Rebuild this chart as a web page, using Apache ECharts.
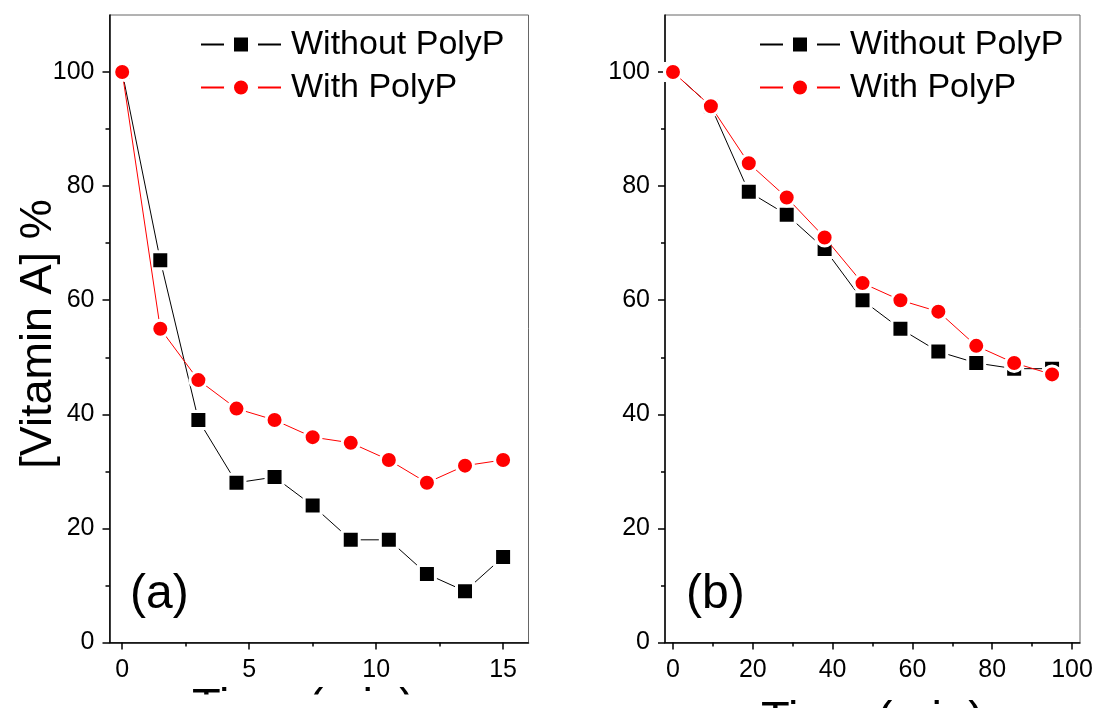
<!DOCTYPE html>
<html>
<head>
<meta charset="utf-8">
<script src="https://cdn.jsdelivr.net/npm/echarts@6/dist/echarts.min.js"></script>
<style>
  html, body { margin: 0; padding: 0; background: #fff; }
  #chart { width: 1097px; height: 708px; }
</style>
</head>
<body>
<div id="chart"></div>
<script>
// Panel (a): time in minutes
const timeA = [0, 1.5, 3, 4.5, 6, 7.5, 9, 10.5, 12, 13.5, 15];
const withoutPolyPA = [100, 67, 39, 28, 29, 24, 18, 18, 12, 9, 15];
const withPolyPA = [100, 55, 46, 41, 39, 36, 35, 32, 28, 31, 32];

// Panel (b)
const timeB = [0, 9.5, 19, 28.5, 38, 47.5, 57, 66.5, 76, 85.5, 95];
const withoutPolyPB = [100, 94, 79, 75, 69, 60, 55, 51, 49, 48, 48];
const withPolyPB = [100, 94, 84, 78, 71, 63, 60, 58, 52, 49, 47];

// Tick positions
const xTicksA = [0, 5, 10, 15];
const xMinorA = [2.5, 7.5, 12.5];
const xTicksB = [0, 20, 40, 60, 80, 100];
const xMinorB = [10, 30, 50, 70, 90];
const yTicks = [0, 20, 40, 60, 80, 100];
const yMinor = [10, 30, 50, 70, 90];

const seriesNames = ['Without PolyP', 'With PolyP'];
const FONT = '"Liberation Sans", Arial, sans-serif';

const chart = echarts.init(document.getElementById('chart'), null, { renderer: 'canvas' });

function pairs(xs, ys) { return xs.map((x, i) => [x, ys[i]]); }

function majorX(grid, min, max, ticks) {
  return {
    type: 'value', gridIndex: grid, min: min, max: max, position: 'bottom',
    axisLine: { show: true, onZero: false, lineStyle: { color: '#000', width: 1.5 } },
    axisTick: { show: true, inside: false, length: 7, customValues: ticks, lineStyle: { color: '#000', width: 1.5 } },
    axisLabel: { show: true, customValues: ticks, margin: 15, color: '#000', fontSize: 25, fontFamily: FONT },
    splitLine: { show: false }
  };
}
function minorX(grid, min, max, ticks) {
  return {
    type: 'value', gridIndex: grid, min: min, max: max, position: 'bottom',
    axisLine: { show: false, onZero: false },
    axisTick: { show: true, inside: false, length: 4, customValues: ticks, lineStyle: { color: '#000', width: 1.5 } },
    axisLabel: { show: false },
    splitLine: { show: false }
  };
}
function majorY(grid) {
  return {
    type: 'value', gridIndex: grid, min: 0, max: 110, position: 'left',
    axisLine: { show: true, onZero: false, lineStyle: { color: '#000', width: 1.5 } },
    axisTick: { show: true, inside: false, length: 7, customValues: yTicks, lineStyle: { color: '#000', width: 1.5 } },
    axisLabel: { show: true, customValues: yTicks, margin: 15, color: '#000', fontSize: 25, fontFamily: FONT },
    splitLine: { show: false }
  };
}
function minorY(grid) {
  return {
    type: 'value', gridIndex: grid, min: 0, max: 110, position: 'left',
    axisLine: { show: false, onZero: false },
    axisTick: { show: true, inside: false, length: 4, customValues: yMinor, lineStyle: { color: '#000', width: 1.5 } },
    axisLabel: { show: false },
    splitLine: { show: false }
  };
}

function lineSeries(name, data, xi, yi, color, symbol) {
  return {
    name: name, type: 'line', xAxisIndex: xi, yAxisIndex: yi, data: data,
    symbol: symbol, symbolSize: 17,
    lineStyle: { color: color, width: 1 },
    itemStyle: { color: color, borderColor: '#fff', borderWidth: 3 },
    emphasis: { disabled: true },
    animation: false, z: symbol === 'circle' ? 3 : 2
  };
}

function legendAt(left) {
  return {
    data: seriesNames, orient: 'vertical', left: left, top: 27.5, padding: 0,
    itemWidth: 80, itemHeight: 30, itemGap: 9,
    itemStyle: { borderColor: '#fff', borderWidth: 10 },
    textStyle: { fontSize: 34, fontFamily: FONT, color: '#000', padding: [0, 0, 0, 5] },
    selectedMode: false
  };
}

const option = {
  backgroundColor: '#fff',
  animation: false,
  grid: [
    { left: 109.5, top: 15, width: 419, height: 627.5, show: true, borderColor: '#666', borderWidth: 1, outerBoundsMode: 'none', containLabel: false },
    { left: 665, top: 15, width: 415, height: 627.5, show: true, borderColor: '#666', borderWidth: 1, outerBoundsMode: 'none', containLabel: false }
  ],
  xAxis: [
    majorX(0, -0.5, 16, xTicksA),
    minorX(0, -0.5, 16, xMinorA),
    majorX(1, -2, 102, xTicksB),
    minorX(1, -2, 102, xMinorB)
  ],
  yAxis: [majorY(0), minorY(0), majorY(1), minorY(1)],
  legend: [legendAt(200), legendAt(759)],
  series: [
    lineSeries(seriesNames[0], pairs(timeA, withoutPolyPA), 0, 0, '#000000', 'rect'),
    lineSeries(seriesNames[1], pairs(timeA, withPolyPA), 0, 0, '#ff0000', 'circle'),
    lineSeries(seriesNames[0], pairs(timeB, withoutPolyPB), 2, 2, '#000000', 'rect'),
    lineSeries(seriesNames[1], pairs(timeB, withPolyPB), 2, 2, '#ff0000', 'circle')
  ],
  graphic: [
    { type: 'text', x: 38.9, y: 334, rotation: Math.PI / 2, z: 10,
      style: { text: '[Vitamin A] %', fontSize: 45, fontFamily: FONT, fill: '#000', align: 'center', verticalAlign: 'middle' } },
    { type: 'text', x: 130, y: 571, z: 10,
      style: { text: '(a)', fontSize: 48, fontFamily: FONT, fill: '#000', align: 'left', verticalAlign: 'top' } },
    { type: 'text', x: 686, y: 571, z: 10,
      style: { text: '(b)', fontSize: 48, fontFamily: FONT, fill: '#000', align: 'left', verticalAlign: 'top' } },
    { type: 'text', x: 192, y: 684.6, z: 10,
      style: { text: 'Time (min)', fontSize: 47, fontFamily: FONT, fill: '#000', align: 'left', verticalAlign: 'top' } },
    { type: 'text', x: 761, y: 697.6, z: 10,
      style: { text: 'Time (min)', fontSize: 47, fontFamily: FONT, fill: '#000', align: 'left', verticalAlign: 'top' } },
    // the left panel's bottom edge ends just below its axis title
    { type: 'rect', z: 20, shape: { x: 0, y: 694.5, width: 560, height: 14 }, style: { fill: '#fff' } }
  ]
};

chart.setOption(option);
</script>
</body>
</html>
